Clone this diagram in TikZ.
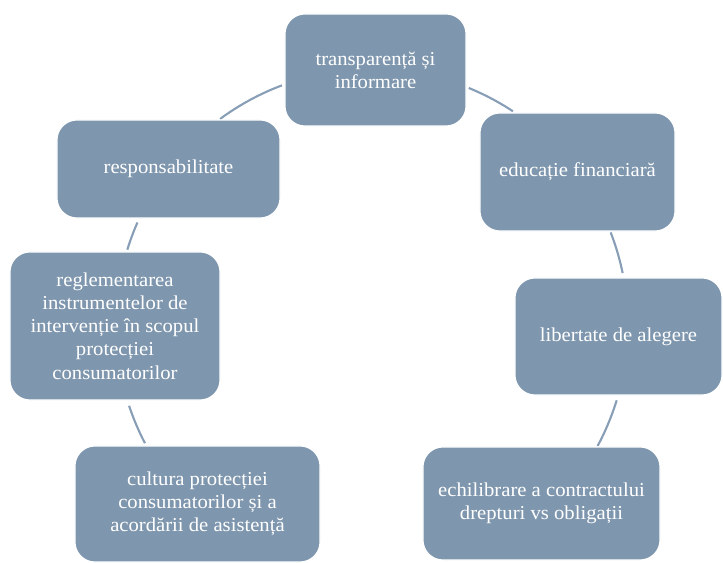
\documentclass[tikz,border=0pt]{standalone}
\usepackage{fontspec}
\setmainfont[FakeStretch=1.05]{Liberation Serif}
\definecolor{boxblue}{RGB}{127,151,174}
\definecolor{arcblue}{RGB}{135,158,182}

\begin{document}
\begin{tikzpicture}[x=0.025cm,y=0.025cm,
  item/.style={draw=white,line width=0.8pt,fill=boxblue,rounded corners=0.5cm,
    text=white,align=center,inner sep=0pt,font=\fontsize{14}{16.5}\selectfont},
  link/.style={draw=arcblue,line width=1.5pt}]
\useasboundingbox (0,0) rectangle (723,563);
\coordinate (ctr) at (372,238);
\draw[link] (ctr) ++(126.4:256) arc[start angle=126.4,end angle=110.6,radius=256];
\draw[link] (ctr) ++(67.8:256) arc[start angle=67.8,end angle=56.6,radius=256];
\draw[link] (ctr) ++(21.2:256) arc[start angle=21.2,end angle=11.7,radius=256];
\draw[link] (ctr) ++(-17.1:256) arc[start angle=-17.1,end angle=-28.2,radius=256];
\draw[link] (ctr) ++(207.5:256) arc[start angle=207.5,end angle=198.4,radius=256];
\draw[link] (ctr) ++(162.9:256) arc[start angle=162.9,end angle=156.4,radius=256];
\node[item,minimum width=4.525cm,minimum height=2.8cm] (transp) at (375.5,493) {transparență și\\informare};
\node[item,minimum width=4.875cm,minimum height=2.95cm] (educ) at (577.5,391) {educație financiară};
\node[item,minimum width=5.175cm,minimum height=2.925cm] (libert) at (618.5,226.5) {libertate de alegere};
\node[item,minimum width=5.925cm,minimum height=2.825cm] (echil) at (541.5,59.5) {echilibrare a contractului\\drepturi vs obligații};
\node[item,minimum width=6.125cm,minimum height=2.9cm] (cultura) at (197.5,59) {cultura protecției\\consumatorilor și a\\acordării de asistență};
\node[item,minimum width=5.25cm,minimum height=3.7cm] (reglem) at (115,237) {reglementarea\\instrumentelor de\\intervenție în scopul\\protecției\\consumatorilor};
\node[item,minimum width=5.575cm,minimum height=2.45cm] (resp) at (168.5,394) {responsabilitate};
\end{tikzpicture}
\end{document}
